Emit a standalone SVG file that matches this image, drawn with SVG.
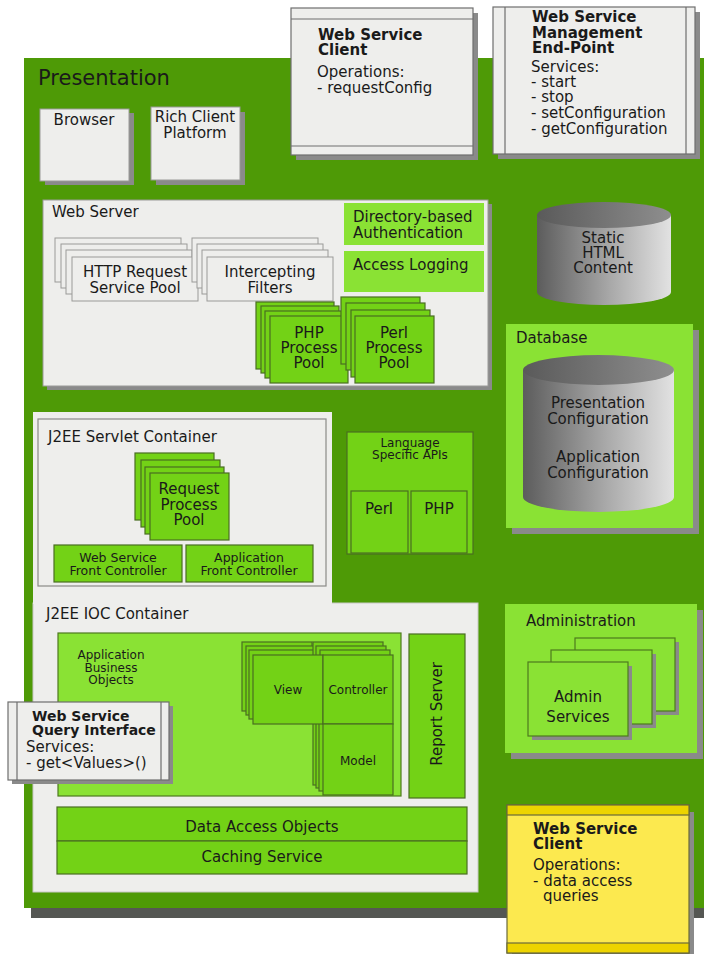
<svg xmlns="http://www.w3.org/2000/svg" width="704" height="954" viewBox="0 0 704 954">
  <style>
    text { font-family: "DejaVu Sans", Verdana, sans-serif; fill: #1a1a1a; }
    .t15 { font-size: 15px; }
    .t14 { font-size: 14px; }
    .t13 { font-size: 12.5px; }
    .t12 { font-size: 12px; }
    .b { font-weight: bold; }
    .mid { text-anchor: middle; }
    .shadow { fill: #8a8a8a; }
    .gray { fill: #eeeeec; stroke: #9a9a98; stroke-width: 1; }
    .grayb { fill: #eeeeec; stroke: #6e6e6e; stroke-width: 1.2; }
    .lg { fill: #8ae234; }
    .lgb { fill: #8ae234; stroke: #4e7a1e; stroke-width: 1.2; }
    .mg { fill: #73d216; stroke: #4a6e22; stroke-width: 1.2; }
    .band { fill: none; stroke: #6e6e6e; stroke-width: 1.2; }
    .yel { fill: #fce94f; stroke: #6a6a3a; stroke-width: 1.2; }
    .ybar { fill: #edd400; stroke: #6a6a3a; stroke-width: 1.2; }
  </style>
  <defs>
    <linearGradient id="cylBody" x1="0" y1="0" x2="1" y2="0">
      <stop offset="0" stop-color="#5c5c5c"/>
      <stop offset="0.55" stop-color="#a9a9a9"/>
      <stop offset="1" stop-color="#e2e2e2"/>
    </linearGradient>
    <linearGradient id="cylTop" x1="0" y1="0" x2="1" y2="0">
      <stop offset="0" stop-color="#5a5a5a"/>
      <stop offset="1" stop-color="#8e8e8e"/>
    </linearGradient>
  </defs>

  <!-- Presentation tier background -->
  <g id="presentation">
    <rect x="31" y="65" width="673" height="853" fill="#555753"/>
    <rect x="24" y="58" width="680" height="850" fill="#4e9a06"/>
    <text x="38" y="85" style="font-size:21px">Presentation</text>
  </g>

  <g id="browser">
    <rect class="shadow" x="45" y="113" width="89" height="72"/>
    <rect class="gray" x="40" y="109" width="89" height="72" stroke="none"/>
    <text class="t15 mid" x="84" y="125">Browser</text>
  </g>

  <g id="rich-client">
    <rect class="shadow" x="156" y="112" width="89" height="73"/>
    <rect class="gray" x="151" y="107" width="89" height="73" stroke="none"/>
    <text class="t15 mid" x="195" y="122">Rich Client</text>
    <text class="t15 mid" x="195" y="138">Platform</text>
  </g>

  <g id="ws-client-config">
    <rect class="shadow" x="296" y="13" width="182" height="147"/>
    <rect class="grayb" x="291" y="8" width="182" height="147"/>
    <line class="band" x1="291" y1="19" x2="473" y2="19"/>
    <line class="band" x1="291" y1="146" x2="473" y2="146"/>
    <text class="t15 b" x="318" y="40">Web Service</text>
    <text class="t15 b" x="318" y="55">Client</text>
    <text class="t15" x="317" y="77">Operations:</text>
    <text class="t15" x="317" y="93">- requestConfig</text>
  </g>

  <g id="ws-management">
    <rect class="shadow" x="498" y="12" width="202" height="147"/>
    <rect class="grayb" x="493" y="7" width="202" height="147"/>
    <line class="band" x1="505" y1="7" x2="505" y2="154"/>
    <line class="band" x1="686" y1="7" x2="686" y2="154"/>
    <text class="t15 b" x="532" y="22">Web Service</text>
    <text class="t15 b" x="532" y="38">Management</text>
    <text class="t15 b" x="532" y="53">End-Point</text>
    <text class="t15" x="531" y="72">Services:</text>
    <text class="t15" x="531" y="87">- start</text>
    <text class="t15" x="531" y="102">- stop</text>
    <text class="t15" x="531" y="118">- setConfiguration</text>
    <text class="t15" x="531" y="134">- getConfiguration</text>
  </g>

  <!-- Web server and its contents -->
  <g id="web-server">
    <rect class="shadow" x="47" y="204" width="445" height="186"/>
    <rect class="gray" x="43" y="200" width="445" height="186"/>
    <text class="t15" x="52" y="217">Web Server</text>
  </g>

  <g id="dir-auth">
    <rect class="lg" x="344" y="203" width="140" height="42"/>
    <text class="t15" x="353" y="222">Directory-based</text>
    <text class="t15" x="353" y="238">Authentication</text>
  </g>

  <g id="access-logging">
    <rect class="lg" x="344" y="251" width="140" height="41"/>
    <text class="t15" x="353" y="270">Access Logging</text>
  </g>

  <g id="http-pool">
    <rect class="gray" x="55" y="238" width="126" height="44"/>
    <rect class="gray" x="61" y="244" width="126" height="44"/>
    <rect class="gray" x="66" y="250" width="126" height="44"/>
    <rect class="gray" x="72" y="257" width="126" height="44"/>
    <text class="t15 mid" x="135" y="277">HTTP Request</text>
    <text class="t15 mid" x="135" y="293">Service Pool</text>
  </g>

  <g id="filters">
    <rect class="gray" x="192" y="238" width="126" height="44"/>
    <rect class="gray" x="197" y="244" width="126" height="44"/>
    <rect class="gray" x="202" y="250" width="126" height="44"/>
    <rect class="gray" x="207" y="257" width="126" height="44"/>
    <text class="t15 mid" x="270" y="277">Intercepting</text>
    <text class="t15 mid" x="270" y="293">Filters</text>
  </g>

  <g id="php-pool">
    <rect class="mg" x="256" y="302" width="78" height="67"/>
    <rect class="mg" x="261" y="306" width="78" height="67"/>
    <rect class="mg" x="265" y="311" width="78" height="67"/>
    <rect class="mg" x="270" y="316" width="78" height="67"/>
    <text class="t15 mid" x="309" y="338">PHP</text>
    <text class="t15 mid" x="309" y="353">Process</text>
    <text class="t15 mid" x="309" y="368">Pool</text>
  </g>

  <g id="perl-pool">
    <rect class="mg" x="341" y="297" width="79" height="67"/>
    <rect class="mg" x="346" y="303" width="79" height="67"/>
    <rect class="mg" x="351" y="310" width="79" height="67"/>
    <rect class="mg" x="355" y="316" width="79" height="67"/>
    <text class="t15 mid" x="394" y="338">Perl</text>
    <text class="t15 mid" x="394" y="353">Process</text>
    <text class="t15 mid" x="394" y="368">Pool</text>
  </g>

  <!-- Data stores -->
  <g id="static-html">
    <path d="M537,215 L537,292 A67,13 0 0 0 671,292 L671,215 Z" fill="url(#cylBody)"/>
    <ellipse cx="604" cy="215" rx="67" ry="13" fill="url(#cylTop)"/>
    <text class="t15 mid" x="603" y="243">Static</text>
    <text class="t15 mid" x="603" y="258">HTML</text>
    <text class="t15 mid" x="603" y="273">Content</text>
  </g>

  <g id="database">
    <rect class="shadow" x="512" y="330" width="187" height="204"/>
    <rect class="lg" x="506" y="324" width="187" height="204"/>
    <text class="t15" x="516" y="343">Database</text>
    <path d="M523,370 L523,497 A75.5,15 0 0 0 674,497 L674,370 Z" fill="url(#cylBody)"/>
    <ellipse cx="598.5" cy="370" rx="75.5" ry="15" fill="url(#cylTop)"/>
    <text class="t15 mid" x="598" y="408">Presentation</text>
    <text class="t15 mid" x="598" y="424">Configuration</text>
    <text class="t15 mid" x="598" y="462">Application</text>
    <text class="t15 mid" x="598" y="478">Configuration</text>
  </g>

  <!-- J2EE containers -->
  <g id="j2ee-area">
    <rect x="33" y="603" width="445" height="289" fill="#eeeeec" stroke="#c8c8c6" stroke-width="1"/>
    <rect x="33" y="412" width="299" height="192" fill="#eeeeec"/>
  </g>

  <g id="servlet-container">
    <rect x="38" y="419" width="288" height="167" fill="#eeeeec" stroke="#8a8a88" stroke-width="1.2"/>
    <text class="t15" x="48" y="442">J2EE Servlet Container</text>
  </g>

  <g id="request-pool">
    <rect class="mg" x="135" y="453" width="79" height="67"/>
    <rect class="mg" x="141" y="460" width="79" height="67"/>
    <rect class="mg" x="145" y="467" width="79" height="67"/>
    <rect class="mg" x="150" y="473" width="79" height="67"/>
    <text class="t15 mid" x="189" y="494">Request</text>
    <text class="t15 mid" x="189" y="510">Process</text>
    <text class="t15 mid" x="189" y="525">Pool</text>
  </g>

  <g id="ws-front-controller">
    <rect class="mg" x="54" y="545" width="128" height="37"/>
    <text class="t13 mid" x="118" y="562">Web Service</text>
    <text class="t13 mid" x="118" y="575">Front Controller</text>
  </g>

  <g id="app-front-controller">
    <rect class="mg" x="186" y="545" width="127" height="37"/>
    <text class="t13 mid" x="249" y="562">Application</text>
    <text class="t13 mid" x="249" y="575">Front Controller</text>
  </g>

  <g id="language-apis">
    <rect class="mg" x="347" y="432" width="126" height="122"/>
    <text class="t12 mid" x="410" y="447">Language</text>
    <text class="t12 mid" x="410" y="459">Specific APIs</text>
    <rect class="mg" x="351" y="491" width="57" height="62"/>
    <rect class="mg" x="411" y="491" width="56" height="62"/>
    <text class="t15 mid" x="379" y="514">Perl</text>
    <text class="t15 mid" x="439" y="514">PHP</text>
  </g>

  <g id="ioc-container">
    <text class="t15" x="46" y="619">J2EE IOC Container</text>
  </g>

  <g id="business-objects">
    <rect class="lgb" x="58" y="633" width="343" height="163"/>
    <text class="t12 mid" x="111" y="659">Application</text>
    <text class="t12 mid" x="111" y="672">Business</text>
    <text class="t12 mid" x="111" y="684">Objects</text>
  </g>

  <g id="mvc">
    <!-- model stack (back) -->
    <rect class="mg" x="313" y="714" width="70" height="71"/>
    <rect class="mg" x="316" y="717" width="70" height="71"/>
    <rect class="mg" x="319" y="720" width="70" height="71"/>
    <!-- view stack (back) -->
    <rect class="mg" x="242" y="642" width="70" height="69"/>
    <rect class="mg" x="246" y="646" width="70" height="69"/>
    <rect class="mg" x="249" y="650" width="70" height="69"/>
    <!-- controller stack (back) -->
    <rect class="mg" x="313" y="642" width="70" height="69"/>
    <rect class="mg" x="316" y="646" width="70" height="69"/>
    <rect class="mg" x="320" y="650" width="70" height="69"/>
    <!-- front cards -->
    <rect class="mg" x="253" y="655" width="70" height="69"/>
    <rect class="mg" x="323" y="655" width="70" height="69"/>
    <rect class="mg" x="323" y="724" width="70" height="71"/>
    <text class="t12 mid" x="288" y="694">View</text>
    <text class="t12 mid" x="358" y="694">Controller</text>
    <text class="t12 mid" x="358" y="765">Model</text>
  </g>

  <g id="report-server">
    <rect class="mg" x="409" y="634" width="56" height="164"/>
    <text class="t15 mid" transform="translate(442,714) rotate(-90)">Report Server</text>
  </g>

  <g id="data-access">
    <rect class="mg" x="57" y="807" width="410" height="34"/>
    <text class="t15 mid" x="262" y="832">Data Access Objects</text>
  </g>

  <g id="caching">
    <rect class="mg" x="57" y="841" width="410" height="33"/>
    <text class="t15 mid" x="262" y="862">Caching Service</text>
  </g>

  <g id="ws-query">
    <rect class="shadow" x="12" y="706" width="161" height="78"/>
    <rect class="grayb" x="8" y="702" width="161" height="78"/>
    <line class="band" x1="17" y1="702" x2="17" y2="780"/>
    <line class="band" x1="161" y1="702" x2="161" y2="780"/>
    <text class="t14 b" x="32" y="721">Web Service</text>
    <text class="t14 b" x="32" y="735">Query Interface</text>
    <text class="t15" x="26" y="752">Services:</text>
    <text class="t15" x="26" y="768">- get&lt;Values&gt;()</text>
  </g>

  <!-- Administration -->
  <g id="administration">
    <rect class="shadow" x="511" y="610" width="192" height="149"/>
    <rect class="lg" x="505" y="604" width="192" height="149"/>
    <text class="t15" x="526" y="626">Administration</text>
  </g>

  <g id="admin-services">
    <rect class="shadow" x="579" y="642" width="100" height="73"/>
    <rect class="lgb" x="575" y="638" width="100" height="73"/>
    <rect class="shadow" x="555" y="654" width="101" height="74"/>
    <rect class="lgb" x="551" y="650" width="101" height="74"/>
    <rect class="shadow" x="532" y="666" width="100" height="74"/>
    <rect class="lgb" x="528" y="662" width="100" height="74"/>
    <text class="t15 mid" x="578" y="702">Admin</text>
    <text class="t15 mid" x="578" y="722">Services</text>
  </g>

  <g id="ws-client-data">
    <rect class="shadow" x="512" y="812" width="182" height="142"/>
    <rect class="yel" x="507" y="805" width="182" height="148"/>
    <rect class="ybar" x="507" y="805" width="182" height="10"/>
    <rect class="ybar" x="507" y="943" width="182" height="10"/>
    <text class="t15 b" x="533" y="834">Web Service</text>
    <text class="t15 b" x="533" y="849">Client</text>
    <text class="t15" x="533" y="870">Operations:</text>
    <text class="t15" x="533" y="886">- data access</text>
    <text class="t15" x="543" y="901">queries</text>
  </g>

  <g id="connectors"></g>
</svg>
